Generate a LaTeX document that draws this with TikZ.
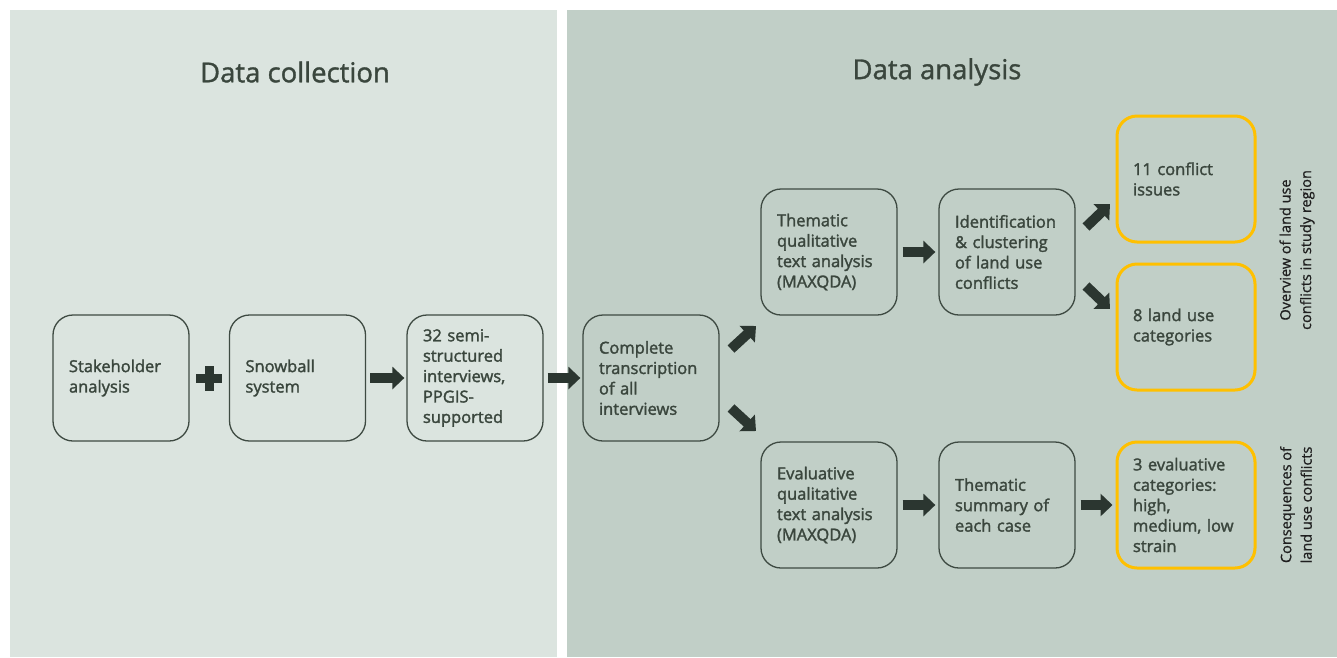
\documentclass[tikz,border=0pt]{standalone}
\usepackage{fontspec}
\setmainfont{Open Sans}
\newfontfamily\semi{Open Sans}[FakeBold=1.8]
\newfontfamily\medi{Open Sans}[FakeBold=1.2]
\newfontfamily\sidef{Open Sans}[FakeBold=0.8]
\usetikzlibrary{arrows.meta}
\definecolor{leftbg}{HTML}{DBE4DF}
\definecolor{rightbg}{HTML}{C1CFC7}
\definecolor{txt}{HTML}{3A463D}
\definecolor{edge}{HTML}{3E4A42}
\definecolor{arr}{HTML}{2B3630}
\definecolor{gold}{HTML}{FFC000}
\tikzset{
  box/.style={draw=edge, line width=1.3pt, rounded corners=20pt, minimum width=136pt, minimum height=126pt,
    inner xsep=0pt, inner ysep=0pt, text width=104pt, align=left, text=txt,
    font=\semi\fontsize{16.5}{20.4}\selectfont},
  goldbox/.style={box, draw=gold, line width=3pt, minimum width=138pt, text width=106pt},
  blk/.style={arr, line width=10pt, -{Triangle[length=12pt,width=22pt]}},
  title/.style={text=txt, font=\medi\fontsize{27.5}{32}\selectfont},
  side/.style={rotate=90, align=center, text=black!88, font=\sidef\fontsize{14.5}{20.5}\selectfont},
}
\begin{document}
\begin{tikzpicture}[x=1pt,y=-1pt]
\useasboundingbox (0,0) rectangle (1337,657);
\fill[white] (0,0) rectangle (1337,657);
\fill[leftbg] (10,10) rectangle (557,657);
\fill[rightbg] (567,10) rectangle (1337,657);
\node[title] (t1) at (295,72) {Data collection};
\node[title] (t2) at (937,72) {Data analysis};

\node[box] (sh) at (121,378) {Stakeholder\\analysis};
\node[box] (sb) at (297.5,378) {Snowball\\system};
\node[box] (ss) at (475,378) {32 semi-\\structured\\interviews,\\PPGIS-\\supported};
\node[box] (ct) at (651,378) {Complete\\transcription\\of all\\interviews};
\node[box] (tq) at (829,252) {Thematic\\qualitative\\text analysis\\(MAXQDA)};
\node[box] (id) at (1007,252) {Identification\\\& clustering\\of land use\\conflicts};
\node[goldbox] (ci) at (1186,179) {11 conflict\\issues};
\node[goldbox] (lu) at (1186,327) {8 land use\\categories};
\node[box] (eq) at (829,505) {Evaluative\\qualitative\\text analysis\\(MAXQDA)};
\node[box] (ts) at (1007,505) {Thematic\\summary of\\each case};
\node[goldbox] (ec) at (1186,505) {3 evaluative\\categories:\\high,\\medium, low\\strain};

\node[side] (s1) at (1297,250) {Overview of land use\\conflicts in study region};
\node[side] (s2) at (1296,505) {Consequences of\\land use conflicts};

% plus sign
\fill[arr] (196,374) rectangle (222,383);
\fill[arr] (204.5,366) rectangle (213.5,391);

% block arrows
\draw[blk, shorten <=4pt, shorten >=2pt] (sb.east) -- (ss.west);
\draw[blk, shorten <=4pt, shorten >=2pt] (ss.east) -- (ct.west);
\draw[blk, shorten <=5pt, shorten >=3pt] (tq.east) -- (id.west);
\draw[blk, shorten <=5pt, shorten >=3pt] (eq.east) -- (ts.west);
\draw[blk, shorten <=5pt, shorten >=3pt] (ts.east) -- (ec.west);

\coordinate (d1a) at (731,349);
\coordinate (d1b) at (756,326);
\coordinate (d2a) at (731,408);
\coordinate (d2b) at (756,431);
\coordinate (d3a) at (1086,227);
\coordinate (d3b) at (1110,204);
\coordinate (d4a) at (1086,286);
\coordinate (d4b) at (1110,309);
\draw[blk] (d1a) -- (d1b);
\draw[blk] (d2a) -- (d2b);
\draw[blk] (d3a) -- (d3b);
\draw[blk] (d4a) -- (d4b);
\end{tikzpicture}
\end{document}
